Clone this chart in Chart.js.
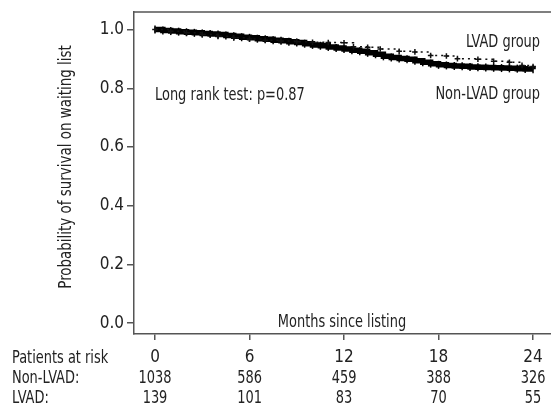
<!DOCTYPE html>
<html>
<head>
<meta charset="utf-8">
<script src="https://cdn.jsdelivr.net/npm/chart.js@4.4.1/dist/chart.umd.min.js"></script>
<style>
html,body{margin:0;padding:0;background:#fff;}
#wrap{width:551px;height:408px;position:relative;}
</style>
</head>
<body>
<div id="wrap"><canvas id="c" width="551" height="408"></canvas></div>
<script>
// ---- data ----
const nonLvadMonths = [0,0.5,1,1.5,2,2.5,3,3.5,4,4.5,5,5.5,6,6.5,7,7.5,8,8.5,9,9.5,10,10.5,11,11.5,12,12.5,13,13.5,14,14.5,15,15.5,16,16.5,17,17.5,18,18.5,19,19.5,20,20.5,21,21.5,22,22.5,23,23.5,24];
const nonLvadSurv = [1.0,0.997,0.995,0.993,0.991,0.989,0.987,0.985,0.983,0.980,0.977,0.974,0.972,0.969,0.967,0.964,0.962,0.959,0.956,0.952,0.948,0.945,0.941,0.937,0.934,0.930,0.926,0.921,0.916,0.909,0.905,0.902,0.899,0.894,0.889,0.884,0.880,0.878,0.876,0.875,0.873,0.872,0.871,0.870,0.869,0.868,0.867,0.866,0.865];
const lvadMonths = [0,1,2,3,4,5,6,7,8,9,10,11,12,12.6,13.5,14.3,15.5,16.5,17.5,18.5,19.2,20.5,21.5,22.5,23.3,24];
const lvadSurv = [1.0,0.994,0.989,0.983,0.977,0.972,0.968,0.964,0.961,0.959,0.957,0.956,0.955,0.942,0.940,0.934,0.926,0.924,0.912,0.910,0.901,0.899,0.892,0.889,0.878,0.874];
const xTicks = [0,6,12,18,24];
const yTicks = [0,0.2,0.4,0.6,0.8,1.0];
const riskRows = ["Patients at risk","Non-LVAD:","LVAD:"];
const riskNonLvad = [1038,586,459,388,326];
const riskLvad = [139,101,83,70,55];

const FONT = "'DejaVu Sans Condensed','DejaVu Sans',sans-serif";
const TXT = '#222';
const AX = '#555';
const SX = 0.8; // horizontal condensing of annotation text

const toXY = (xs, ys) => xs.map((x,i)=>({x:x, y:ys[i]}));

function txt(ctx, s, x, y, align, sx){
  ctx.save();
  ctx.translate(x, y);
  ctx.scale(sx, 1);
  ctx.textAlign = align;
  ctx.fillText(s, 0, 0);
  ctx.restore();
}

const overlay = {
  id:'overlay',
  afterDraw(chart){
    const {ctx, chartArea:a, scales:{x}} = chart;
    ctx.save();
    // top border of the frame
    ctx.strokeStyle = AX; ctx.lineWidth = 1.5;
    ctx.beginPath(); ctx.moveTo(a.left, a.top); ctx.lineTo(a.right, a.top); ctx.stroke();
    ctx.fillStyle = TXT;
    ctx.textBaseline = 'middle';
    ctx.font = '18px ' + FONT;
    txt(ctx, 'LVAD group', 540, 42, 'right', SX);
    txt(ctx, 'Non-LVAD group', 540, 94, 'right', SX);
    txt(ctx, 'Long rank test: p=0.87', 155, 95, 'left', SX);
    txt(ctx, 'Months since listing', 342, 322, 'center', SX);
    // y title
    ctx.save();
    ctx.translate(66, 167);
    ctx.rotate(-Math.PI/2);
    ctx.scale(0.83, 1);
    ctx.textAlign = 'center';
    ctx.fillText('Probability of survival on waiting list', 0, 0);
    ctx.restore();
    // risk table
    txt(ctx, riskRows[0], 12, 358, 'left', SX);
    txt(ctx, riskRows[1], 12, 378, 'left', SX);
    txt(ctx, riskRows[2], 12, 398, 'left', SX);
    xTicks.forEach((t,i)=>{
      const px = x.getPixelForValue(t);
      txt(ctx, String(riskNonLvad[i]), px, 378, 'center', SX);
      txt(ctx, String(riskLvad[i]), px, 398, 'center', SX);
    });
    ctx.restore();
  }
};

new Chart(document.getElementById('c'), {
  type:'scatter',
  data:{
    datasets:[
      {
        label:'LVAD group',
        data: toXY(lvadMonths, lvadSurv),
        showLine:true, stepped:true,
        borderColor:'#111', borderWidth:1.5, borderDash:[2,4],
        pointStyle:'cross', pointRadius:2.8, pointBorderWidth:1.5,
        pointBorderColor:'#111', pointBackgroundColor:'#111'
      },
      {
        label:'Non-LVAD group',
        data: toXY(nonLvadMonths, nonLvadSurv),
        showLine:true, stepped:true,
        borderColor:'#000', borderWidth:5.5,
        pointStyle:'line', rotation:90, pointRadius:4, pointBorderWidth:1.5,
        pointBorderColor:'#000', pointBackgroundColor:'#000'
      }
    ]
  },
  options:{
    responsive:false, animation:false,
    layout:{autoPadding:false, padding:{left:0,right:0,top:12,bottom:0}},
    plugins:{legend:{display:false}, tooltip:{enabled:false}},
    scales:{
      x:{
        type:'linear', min:-1.333, max:25.14,
        afterFit(s){ s.height = 74; s.paddingLeft = 0; s.paddingRight = 0; },
        afterBuildTicks(s){ s.ticks = xTicks.map(v=>({value:v})); },
        grid:{display:true, drawOnChartArea:false, drawTicks:true, tickLength:6, color:AX, lineWidth:1.5},
        border:{display:true, color:AX, width:1.5},
        ticks:{padding:9, color:TXT, font:{family:FONT, size:17, lineHeight:1}, autoSkip:false, maxRotation:0}
      },
      y:{
        type:'linear', min:-0.037, max:1.06,
        afterFit(s){ s.width = 134; s.paddingTop = 0; s.paddingBottom = 0; },
        afterBuildTicks(s){ s.ticks = yTicks.map(v=>({value:v})); },
        grid:{display:true, drawOnChartArea:false, drawTicks:true, tickLength:7, color:AX, lineWidth:1.5},
        border:{display:true, color:AX, width:1.5},
        ticks:{padding:3, color:TXT, font:{family:FONT, size:17, lineHeight:1}, callback:v=>v.toFixed(1)}
      }
    }
  },
  plugins:[overlay]
});
</script>
</body>
</html>
